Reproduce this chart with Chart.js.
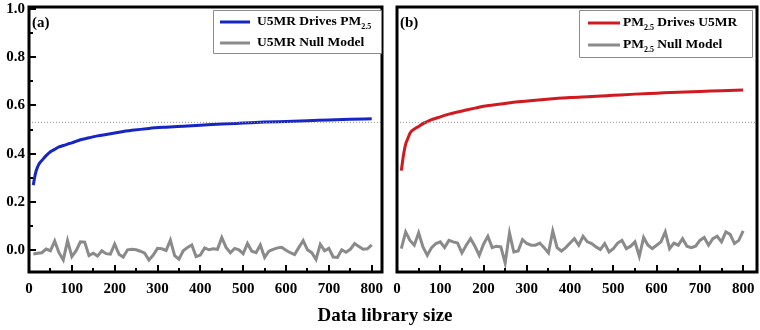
<!DOCTYPE html>
<html>
<head>
<meta charset="utf-8">
<script src="https://cdn.jsdelivr.net/npm/chart.js@4.4.1/dist/chart.umd.min.js"></script>
<style>
  html, body { margin: 0; padding: 0; background: #fff; }
  #wrap { position: relative; width: 760px; height: 330px; }
  #ca { position: absolute; left: 0; top: 0; }
  #cb { position: absolute; left: 390px; top: 0; }
  #xtitle { position: absolute; left: 0; width: 770px; top: 304px; text-align: center;
            font: bold 19px "Liberation Serif", "Times New Roman", serif; color: #000; }
</style>
</head>
<body>
<div id="wrap">
  <canvas id="ca" width="390" height="330"></canvas>
  <canvas id="cb" width="370" height="330"></canvas>
  <div id="xtitle">Data library size</div>
</div>
<script>
// ---- data ----
var curveSize = [10, 15, 20, 25, 30, 40, 50, 60, 70, 80, 90, 100, 120, 140, 160, 180, 200,
                 240, 280, 320, 360, 400, 450, 500, 550, 600, 650, 700, 750, 800];
var u5mrDrives = [0.270, 0.318, 0.345, 0.362, 0.372, 0.392, 0.408, 0.418, 0.428, 0.434, 0.440, 0.445,
                  0.458, 0.466, 0.474, 0.480, 0.486, 0.497, 0.505, 0.510, 0.514, 0.518, 0.523, 0.527,
                  0.531, 0.534, 0.537, 0.540, 0.543, 0.545];
var pmDrives = [0.330, 0.395, 0.440, 0.463, 0.485, 0.502, 0.513, 0.525, 0.533, 0.541, 0.547, 0.553,
                0.564, 0.573, 0.581, 0.589, 0.597, 0.606, 0.615, 0.622, 0.628, 0.633, 0.637, 0.642,
                0.647, 0.651, 0.655, 0.658, 0.661, 0.664];

var nullSize = [10, 20, 30, 40, 50, 60, 70, 80, 90, 100, 110, 120, 130, 140, 150, 160, 170, 180, 190, 200,
                210, 220, 230, 240, 250, 260, 270, 280, 290, 300, 310, 320, 330, 340, 350, 360, 370, 380, 390, 400,
                410, 420, 430, 440, 450, 460, 470, 480, 490, 500, 510, 520, 530, 540, 550, 560, 570, 580, 590, 600,
                610, 620, 630, 640, 650, 660, 670, 680, 690, 700, 710, 720, 730, 740, 750, 760, 770, 780, 790, 800];
var u5mrNull = [-0.015, -0.012, -0.010, 0.005, -0.002, 0.038, -0.010, -0.040, 0.040, -0.026,
                -0.002, 0.035, 0.034, -0.022, -0.012, -0.024, -0.002, -0.014, -0.016, 0.026,
                -0.016, -0.028, 0.002, 0.004, 0.002, -0.004, -0.012, -0.040, -0.020, 0.008,
                0.006, -0.001, 0.042, -0.022, -0.037, -0.002, 0.012, 0.022, -0.026, -0.020,
                0.010, 0.002, 0.006, 0.004, 0.053, 0.012, -0.010, 0.008, 0.002, -0.014,
                0.028, -0.004, -0.010, 0.022, -0.030, -0.004, 0.004, 0.010, 0.012, 0.000,
                -0.010, -0.018, 0.012, 0.040, 0.002, -0.010, -0.038, 0.025, -0.002, 0.008,
                -0.028, -0.030, 0.002, -0.008, 0.004, 0.028, 0.016, 0.004, 0.006, 0.022];
var pmNull = [0.007, 0.076, 0.041, 0.021, 0.072, 0.014, -0.021, 0.011, 0.028, 0.035,
              0.011, 0.041, 0.035, 0.030, -0.011, 0.021, 0.048, 0.017, -0.021, 0.025,
              0.058, 0.011, 0.017, 0.014, -0.053, 0.072, -0.007, -0.003, 0.044, 0.028,
              0.021, 0.021, 0.030, 0.011, -0.011, 0.080, 0.011, -0.003, 0.011, 0.030,
              0.048, 0.021, 0.058, 0.035, 0.028, 0.014, 0.003, 0.028, -0.007, 0.007,
              0.030, 0.041, 0.007, 0.017, 0.035, -0.025, 0.053, 0.021, 0.007, 0.021,
              0.035, 0.076, 0.007, 0.030, 0.021, 0.048, 0.017, 0.011, 0.017, 0.041,
              0.053, 0.021, 0.048, 0.058, 0.035, 0.076, 0.066, 0.028, 0.041, 0.080];
var refLevel = 0.53;

var FONT = '"Liberation Serif", "Times New Roman", serif';
var BLUE = '#1526c4', RED = '#d11a20', GREY = '#8a8a8a';

function pts(xs, ys) {
  return xs.map(function (x, i) { return { x: x, y: ys[i] }; });
}

var panelDecor = {
  id: 'panelDecor',
  afterDraw: function (chart, args, opts) {
    var ctx = chart.ctx, a = chart.chartArea, xs = chart.scales.x, ys = chart.scales.y;
    var w = a.right - a.left, h = a.bottom - a.top;
    ctx.save();
    ctx.strokeStyle = '#000';
    ctx.lineWidth = 2;
    xs.ticks.forEach(function (t) {
      var px = Math.round(xs.getPixelForValue(t.value));
      var len = t.value % 100 === 0 ? 7 : 4;
      ctx.beginPath(); ctx.moveTo(px, a.bottom); ctx.lineTo(px, a.bottom - len); ctx.stroke();
    });
    if (opts.yTicks) {
      ys.ticks.forEach(function (t) {
        var py = Math.round(ys.getPixelForValue(t.value));
        var len = Math.round(t.value * 10) % 2 === 0 ? 7 : 4;
        ctx.beginPath(); ctx.moveTo(a.left, py); ctx.lineTo(a.left + len, py); ctx.stroke();
      });
    }
    ctx.lineWidth = 3;
    ctx.beginPath();
    ctx.rect(a.left, a.top, w, h);
    ctx.stroke();

    ctx.fillStyle = '#000';
    ctx.textBaseline = 'middle';
    ctx.textAlign = 'left';
    ctx.font = 'bold 15px ' + FONT;
    ctx.fillText(opts.tag, a.left + opts.tagDx, a.top + 16);

    var L = opts.legend;
    var bx = a.right - L.right - L.w, by = a.top + L.top;
    ctx.fillStyle = '#fff';
    ctx.fillRect(bx, by, L.w, L.h);
    ctx.strokeStyle = '#8c8c8c';
    ctx.lineWidth = 1;
    ctx.beginPath();
    ctx.rect(bx + 0.5, by + 0.5, L.w, L.h);
    ctx.stroke();
    L.items.forEach(function (it, i) {
      var ds = chart.data.datasets[it.ds];
      var cy = by + L.rowY[i];
      ctx.strokeStyle = ds.borderColor;
      ctx.lineWidth = ds.borderWidth;
      ctx.beginPath(); ctx.moveTo(bx + L.lineX, cy); ctx.lineTo(bx + L.lineX + L.lineLen, cy); ctx.stroke();
      var tx = bx + L.textX;
      ctx.fillStyle = '#000';
      it.parts.forEach(function (p) {
        ctx.font = p.sub ? 'bold 8px ' + FONT : 'bold 13.5px ' + FONT;
        ctx.fillText(p.t, tx, p.sub ? cy + 5 : cy);
        tx += ctx.measureText(p.t).width;
      });
    });
    ctx.restore();
  }
};

function xScale(max) {
  return {
    type: 'linear', min: 0, max: max,
    grid: { display: false, drawTicks: false },
    border: { display: false },
    ticks: {
      stepSize: 50, includeBounds: false, autoSkip: false, maxRotation: 0, padding: 8,
      color: '#000', font: { family: FONT, size: 15, weight: 'bold' },
      callback: function (v) { return v % 100 === 0 ? String(v) : ''; }
    },
    afterFit: function (s) { s.height = 58; s.paddingLeft = 0; s.paddingRight = 0; }
  };
}

function yScale(show) {
  return {
    type: 'linear', min: -0.09, max: 1.008, display: show,
    grid: { display: false, drawTicks: false },
    border: { display: false },
    ticks: {
      stepSize: 0.1, includeBounds: false, autoSkip: false, padding: 4,
      color: '#000', font: { family: FONT, size: 15, weight: 'bold' },
      callback: function (v) {
        if (Math.round(v * 10) % 2 !== 0) return '';
        return Math.abs(v) < 1e-9 ? '0.0' : v.toFixed(1);
      }
    },
    afterFit: function (s) { s.width = show ? 29 : 0; s.paddingTop = 0; s.paddingBottom = 0; }
  };
}

function makeChart(id, max, mainData, mainColor, nullData, pad, decor) {
  return new Chart(document.getElementById(id), {
    type: 'line',
    data: {
      datasets: [
        { data: pts([0, max], [refLevel, refLevel]), borderColor: '#9a9a9a', borderWidth: 1,
          borderDash: [1, 2], pointRadius: 0 },
        { data: nullData, borderColor: GREY, borderWidth: 3, pointRadius: 0, tension: 0 },
        { data: mainData, borderColor: mainColor, borderWidth: 3, pointRadius: 0,
          cubicInterpolationMode: 'monotone' }
      ]
    },
    options: {
      responsive: false, animation: false,
      layout: { padding: pad },
      plugins: { legend: { display: false }, tooltip: { enabled: false }, panelDecor: decor },
      scales: { x: xScale(max), y: yScale(decor.yTicks) }
    },
    plugins: [panelDecor]
  });
}

makeChart('ca', 824, pts(curveSize, u5mrDrives), BLUE, pts(nullSize, u5mrNull),
  { top: 7, right: 8, left: 0, bottom: 0 },
  { tag: '(a)', tagDx: 3, yTicks: true,
    legend: { right: 1, top: 3, w: 168, h: 43, lineX: 7, lineLen: 30, textX: 44, rowY: [12, 33],
      items: [
        { ds: 2, parts: [{ t: 'U5MR Drives PM' }, { t: '2.5', sub: true }] },
        { ds: 1, parts: [{ t: 'U5MR Null Model' }] }
      ] } });

makeChart('cb', 832, pts(curveSize, pmDrives), RED, pts(nullSize, pmNull),
  { top: 7, right: 3, left: 7, bottom: 0 },
  { tag: '(b)', tagDx: 3, yTicks: false,
    legend: { right: 5, top: 3, w: 173, h: 47, lineX: 9, lineLen: 32, textX: 44, rowY: [13, 35],
      items: [
        { ds: 2, parts: [{ t: 'PM' }, { t: '2.5', sub: true }, { t: ' Drives U5MR' }] },
        { ds: 1, parts: [{ t: 'PM' }, { t: '2.5', sub: true }, { t: ' Null Model' }] }
      ] } });
</script>
</body>
</html>
